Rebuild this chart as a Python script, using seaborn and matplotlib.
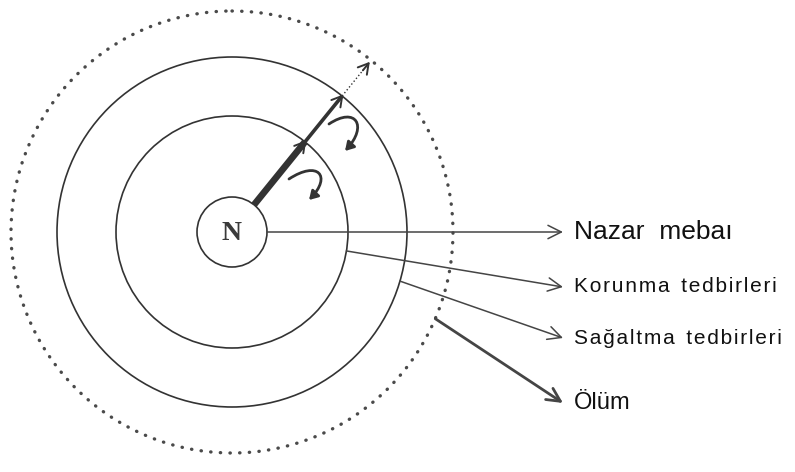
import numpy as np
import matplotlib.pyplot as plt
import seaborn as sns
from matplotlib.patches import Circle, FancyArrowPatch
from matplotlib.path import Path

sns.set_theme(style="white")
plt.rcParams['font.family'] = ['Liberation Sans', 'DejaVu Sans']

# rings of the diagram, radii (pixels)
ring_names = ["N", "inner", "outer", "dotted"]
ring_radii = [35, 116, 175, 221]

# pointers on the right: text, ring they leave from, angle where they leave (deg, below = negative)
labels = ["Nazar  mebaı", "Korunma tedbirleri", "Sağaltma tedbirleri", "Ölüm"]
label_ring = [0, 1, 2, 3]
label_angle = [0, -9.4, -16.3, -23.1]
label_y = [232, 287, 338, 403]
label_size = [19, 15, 15, 17]
label_tracked = [False, True, True, False]

# spoke out of N
spoke_angle = 51
spoke_stops = [35, 116, 175, 218]

cx, cy = 232, 232
line_col = '#333333'

fig = plt.figure(figsize=(7.95, 4.72), dpi=100)
ax = fig.add_axes([0, 0, 1, 1])
ax.set_xlim(0, 795)
ax.set_ylim(472, 0)
ax.axis('off')

for name, r in zip(ring_names, ring_radii):
    if name == "dotted":
        c = Circle((cx, cy), r, fill=False, ec='#4a4a4a', lw=2.4, ls=(0, (0.1, 2.8)))
        c.set_capstyle('round')
    else:
        c = Circle((cx, cy), r, fill=False, ec=line_col, lw=1.2)
    ax.add_patch(c)

ax.text(cx, cy + 1, "N", family=['Liberation Serif', 'DejaVu Serif'], fontsize=20,
        fontweight='bold', ha='center', va='center', color='#3a3a3a')

# pointers to the labels
for lab, ri, ang, y, size, tracked in zip(labels, label_ring, label_angle, label_y,
                                          label_size, label_tracked):
    r = ring_radii[ri]
    a = np.deg2rad(ang)
    x0, y0 = cx + r * np.cos(a), cy - r * np.sin(a)
    lw = 2.0 if ri == 3 else 1.1
    ax.annotate("", xy=(563, y), xytext=(x0, y0),
                arrowprops=dict(arrowstyle='->,head_length=0.8,head_width=0.4',
                                color='#454545', lw=lw, shrinkA=0, shrinkB=0))
    txt = lab
    if tracked:
        # slightly letter-spaced as in the print
        txt = "  ".join("\u200a".join(w) for w in lab.split(" "))
    ax.text(574, y, txt, fontsize=size, ha='left', va='center', color='#111111')

# spoke: thick, medium, dotted
u = np.array([np.cos(np.deg2rad(spoke_angle)), -np.sin(np.deg2rad(spoke_angle))])
pts = [np.array([cx, cy]) + r * u for r in spoke_stops]
ax.plot([pts[0][0], pts[1][0]], [pts[0][1], pts[1][1]], color=line_col, lw=4.8,
        solid_capstyle='butt')
ax.plot([pts[1][0], pts[2][0]], [pts[1][1], pts[2][1]], color=line_col, lw=2.6,
        solid_capstyle='butt')
ax.plot([pts[2][0], pts[3][0]], [pts[2][1], pts[3][1]], color=line_col, lw=1.0, ls=':')
for r0, r1 in [(105, 118), (164, 177), (208, 219)]:
    p0 = np.array([cx, cy]) + r0 * u
    p1 = np.array([cx, cy]) + r1 * u
    ax.annotate("", xy=p1, xytext=p0,
                arrowprops=dict(arrowstyle='->,head_length=0.6,head_width=0.35',
                                color=line_col, lw=1.4, shrinkA=0, shrinkB=0))

# curled arrows bouncing back inside the rings
curls = [[(289, 179), (318, 160), (332, 176), (309, 200)],
         [(329, 124), (356, 106), (368, 126), (345, 151)]]
for verts in curls:
    path = Path(verts, [Path.MOVETO, Path.CURVE4, Path.CURVE4, Path.CURVE4])
    ax.add_patch(FancyArrowPatch(path=path, arrowstyle='-|>,head_length=0.5,head_width=0.3',
                                 color=line_col, lw=2.0, mutation_scale=10))

fig.savefig("out.png", dpi=100, facecolor='white')
